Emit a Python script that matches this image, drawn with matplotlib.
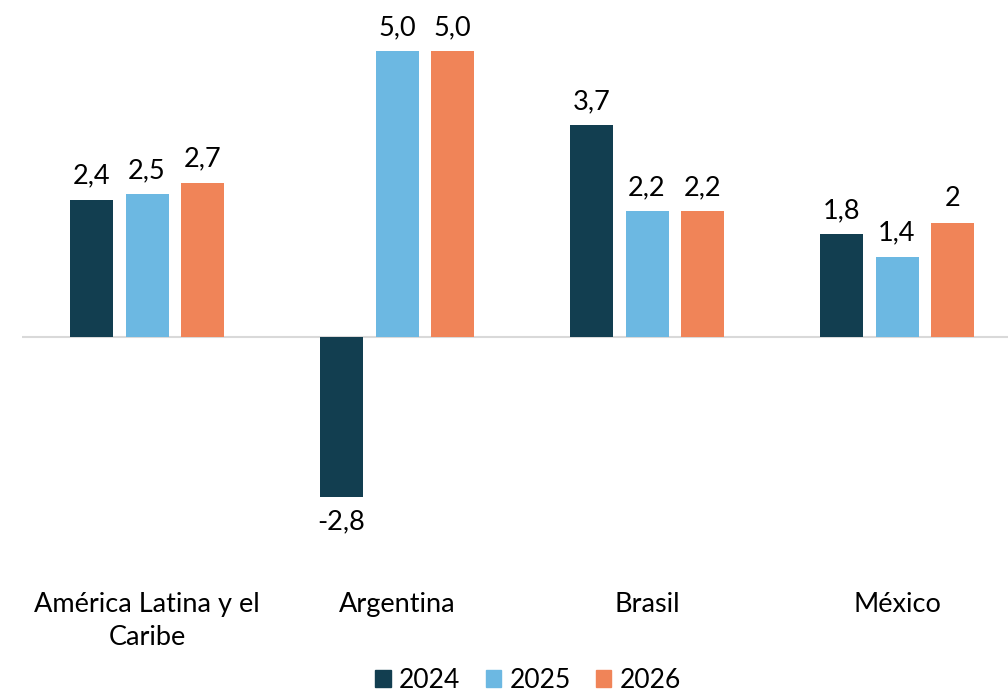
import matplotlib
matplotlib.use("Agg")
import matplotlib.pyplot as plt
import numpy as np

categories = ["América Latina y el\nCaribe", "Argentina", "Brasil", "México"]
years = ["2024", "2025", "2026"]
v2024 = [2.4, -2.8, 3.7, 1.8]
v2025 = [2.5, 5.0, 2.2, 1.4]
v2026 = [2.7, 5.0, 2.2, 2.0]
labels2024 = ["2,4", "-2,8", "3,7", "1,8"]
labels2025 = ["2,5", "5,0", "2,2", "1,4"]
labels2026 = ["2,7", "5,0", "2,2", "2"]

colors = ["#123E50", "#6CB8E2", "#F08458"]

plt.rcParams['font.family'] = ['Lato', 'DejaVu Sans']

fig = plt.figure(figsize=(10.08, 6.91), dpi=100)
W, H = 1008, 691
y0 = 337
ppu = 57.2
ymin, ymax = -4.0, 5.6
top = y0 - ymax * ppu
bot = y0 - ymin * ppu
ax = fig.add_axes([22 / W, 1 - bot / H, 1000 / W, (bot - top) / H])

x = np.arange(len(categories))
bw = 0.172
off = 0.222
series = [v2024, v2025, v2026]
lbls = [labels2024, labels2025, labels2026]
for i, (vals, lb) in enumerate(zip(series, lbls)):
    xs = x + (i - 1) * off
    ax.bar(xs, vals, width=bw, color=colors[i], label=years[i], zorder=2)
    for xx, v, t in zip(xs, vals, lb):
        if v >= 0:
            ax.annotate(t, (xx, v), xytext=(0, 8), textcoords="offset points",
                        ha="center", va="bottom", fontsize=19.5, color="#000000")
        else:
            ax.annotate(t, (xx, v), xytext=(0, -9), textcoords="offset points",
                        ha="center", va="top", fontsize=19.5, color="#000000")

ax.axhline(0, color="#D9D9D9", lw=1.5, zorder=1)
ax.set_xlim(-0.5, 3.5)
ax.set_ylim(ymin, ymax)
for s in ax.spines.values():
    s.set_visible(False)
ax.set_yticks([])
ax.set_xticks([])

for xi, c in zip(x, categories):
    ax.text(xi, -4.45, c, ha="center", va="top", fontsize=19.5, color="#000000",
            linespacing=1.4, transform=ax.transData, clip_on=False)

handles = [plt.Rectangle((0, 0), 1, 1, color=c) for c in colors]
fig.legend(handles, years, loc="center", bbox_to_anchor=(528 / W, 1 - 680 / H),
           ncol=3, frameon=False, fontsize=19, handlelength=0.6, handleheight=0.6,
           handletextpad=0.3, columnspacing=0.95)

fig.savefig("out.png", dpi=100)
